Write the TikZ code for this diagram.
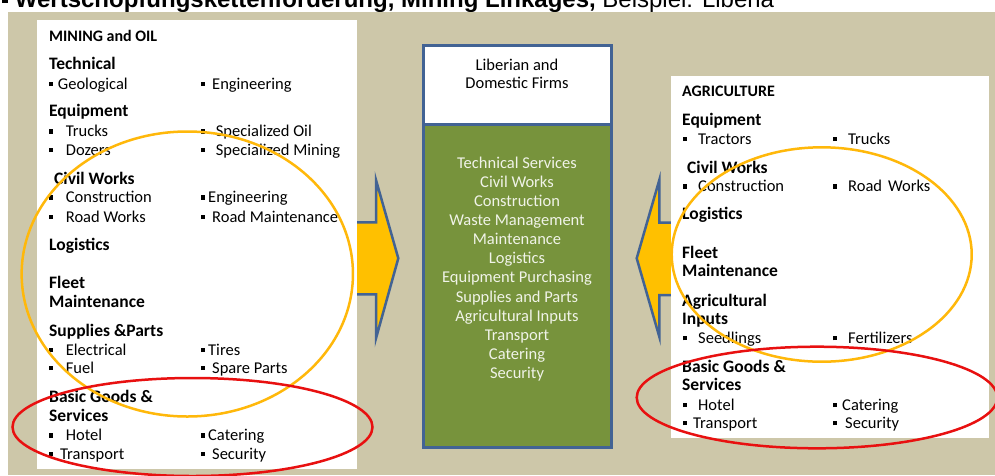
\documentclass[tikz,border=0pt]{standalone}
\usepackage{fontspec}
\setmainfont{Carlito}
\newfontfamily\titlefont{Liberation Sans}
\usepackage{tikz}
\usetikzlibrary{shapes.geometric}

\definecolor{sand}{RGB}{205,199,169}
\definecolor{frameblue}{RGB}{66,99,148}
\definecolor{hubgreen}{RGB}{119,147,60}
\definecolor{amber}{RGB}{255,192,0}
\definecolor{ringorange}{RGB}{255,184,10}
\definecolor{ringred}{RGB}{232,16,16}
\definecolor{svctext}{RGB}{240,243,232}

\newcommand{\bul}[1]{\rule[3pt]{4pt}{4.3pt}\hspace{#1}}

\tikzset{
    panel/.style={rectangle, fill=white, inner sep=0pt, outer sep=0pt, anchor=north west},
    firmbox/.style={rectangle, draw=frameblue, line width=3pt, inner sep=0pt, outer sep=0pt, anchor=north west, minimum width=187.5pt},
    sector/.style={anchor=base west, inner sep=0pt, font=\bfseries\fontsize{16}{19}\selectfont},
    head/.style={anchor=base west, inner sep=0pt, font=\bfseries\fontsize{17.5}{19}\selectfont},
    item/.style={anchor=base west, inner sep=0pt, font=\fontsize{16.5}{19}\selectfont},
    firmtext/.style={anchor=base, inner sep=0pt, font=\fontsize{16.5}{19}\selectfont},
    svc/.style={anchor=base, inner sep=0pt, text=svctext, font=\fontsize{16.5}{19}\selectfont},
    flow/.style={fill=amber, draw=frameblue, line width=2.5pt, line join=miter},
    hubring/.style={ellipse, draw=ringorange, line width=2.5pt, inner sep=0pt},
    basering/.style={ellipse, draw=ringred, line width=2.5pt, inner sep=0pt}
}

\begin{document}
\begin{tikzpicture}[x=1pt, y=-1pt]
    \useasboundingbox (0,0) rectangle (995,475);

    % Title (cut at the top of the slide)
    \node[anchor=base west, inner sep=0pt, font=\titlefont\fontsize{24}{28}\selectfont] (title) at (2,7.5)
        {\rule[5pt]{6pt}{6pt}~\textbf{Wertschöpfungskettenförderung, Mining Linkages,} Beispiel: Liberia};

    % Background
    \fill[sand] (8,12) rectangle (995,475);

    % Block arrows towards the firms
    \draw[flow] (330,222.3) -- (376,222.3) -- (376,180) -- (398.3,258.3) -- (376,338.3) -- (376,294.3) -- (330,294.3) -- cycle;
    \draw[flow] (700,222.7) -- (659.3,222.7) -- (659.3,180) -- (636.7,258.3) -- (659.3,336.7) -- (659.3,295) -- (700,295) -- cycle;

    % Sector panels
    \node[panel, minimum width=320pt, minimum height=449pt] (mining) at (37,20) {};
    \node[panel, minimum width=318pt, minimum height=362pt] (agri) at (671,76) {};

    % Firms
    \node[firmbox, fill=white, minimum height=78.5pt] (firms) at (423.5,45.5) {};
    \node[firmbox, fill=hubgreen, minimum height=323.5pt] (services) at (423.5,124) {};
    \node[firmtext] (firms-a) at (517,70.7) {Liberian and};
    \node[firmtext] (firms-b) at (517,88.3) {Domestic Firms};

    \foreach \svcname [count=\i from 0] in {Technical Services, Civil Works, Construction, Waste Management, Maintenance, Logistics, Equipment Purchasing, Supplies and Parts, Agricultural Inputs, Transport, Catering, Security}
        \node[svc] (svc-\i) at (517,{168.3+19.1*\i}) {\svcname};

    % Mining and oil
    \node[sector] (m-title) at (49,41.7) {MINING and OIL};
    \node[head] (m-tech) at (49,69.3) {Technical};
    \node[item] (m-geo) at (49,89) {\bul{4.7pt}Geological};
    \node[item] (m-eng) at (201,89) {\bul{7pt}Engineering};
    \node[head] (m-equip) at (49,116.7) {Equipment};
    \node[item] (m-trucks) at (49,136.7) {\bul{12.7pt}Trucks};
    \node[item] (m-oil) at (201,136.7) {\bul{10.7pt}Specialized Oil};
    \node[item] (m-dozers) at (49,155) {\bul{12.7pt}Dozers};
    \node[item] (m-mining) at (201,155) {\bul{10.7pt}Specialized Mining};
    \node[head] (m-civil) at (54,184) {Civil Works};
    \node[item] (m-constr) at (49,202.7) {\bul{12.7pt}Construction};
    \node[item] (m-ceng) at (201,202.7) {\bul{3pt}Engineering};
    \node[item] (m-road) at (49,222) {\bul{12.7pt}Road Works};
    \node[item] (m-roadm) at (201,222) {\bul{7pt}Road Maintenance};
    \node[head] (m-log) at (49,250) {Logistics};
    \node[head] (m-fleet) at (49,288) {Fleet};
    \node[head] (m-maint) at (49,307.7) {Maintenance};
    \node[head] (m-supp) at (49,336) {Supplies \&Parts};
    \node[item] (m-elec) at (49,355) {\bul{12.7pt}Electrical};
    \node[item] (m-tires) at (201,355) {\bul{3pt}Tires};
    \node[item] (m-fuel) at (49,373) {\bul{12.7pt}Fuel};
    \node[item] (m-spare) at (201,373) {\bul{7pt}Spare Parts};
    \node[head] (m-basic) at (49,402.7) {Basic Goods \&};
    \node[head] (m-serv) at (49,421) {Services};
    \node[item] (m-hotel) at (49,440.7) {\bul{12.7pt}Hotel};
    \node[item] (m-cater) at (201,440.7) {\bul{3pt}Catering};
    \node[item] (m-trans) at (49,459) {\bul{7pt}Transport};
    \node[item] (m-sec) at (201,459) {\bul{7pt}Security};

    % Agriculture
    \node[sector] (a-title) at (682,96) {AGRICULTURE};
    \node[head] (a-equip) at (682,125.7) {Equipment};
    \node[item] (a-tract) at (683,144) {\bul{11pt}Tractors};
    \node[item] (a-trucks) at (833,144) {\bul{11pt}Trucks};
    \node[head] (a-civil) at (687,173.3) {Civil Works};
    \node[item] (a-constr) at (683,191.7) {\bul{11pt}Construction};
    \node[item] (a-road) at (833,191.7) {\bul{11pt}Road\hspace{6pt}Works};
    \node[head] (a-log) at (682,219.3) {Logistics};
    \node[head] (a-fleet) at (682,258.3) {Fleet};
    \node[head] (a-maint) at (682,276.7) {Maintenance};
    \node[head] (a-agri) at (682,306) {Agricultural};
    \node[head] (a-inputs) at (682,324.3) {Inputs};
    \node[item] (a-seed) at (683,343.3) {\bul{11pt}Seedlings};
    \node[item] (a-fert) at (833,343.3) {\bul{11pt}Fertilizers};
    \node[head] (a-basic) at (682,372.3) {Basic Goods \&};
    \node[head] (a-serv) at (682,390.7) {Services};
    \node[item] (a-hotel) at (683,410) {\bul{11pt}Hotel};
    \node[item] (a-cater) at (833,410) {\bul{5pt}Catering};
    \node[item] (a-trans) at (683,428.3) {\bul{6pt}Transport};
    \node[item] (a-sec) at (833,428.3) {\bul{8pt}Security};

    % Rings
    \node[hubring, minimum width=331.3pt, minimum height=285pt] (m-ring) at (187.3,274) {};
    \node[basering, minimum width=360pt, minimum height=98pt] (m-base) at (192.5,427) {};
    \node[hubring, minimum width=300pt, minimum height=214.4pt] (a-ring) at (821.7,254.5) {};
    \node[basering, minimum width=360.6pt, minimum height=101.6pt] (a-base) at (817,397.5) {};
\end{tikzpicture}
\end{document}
